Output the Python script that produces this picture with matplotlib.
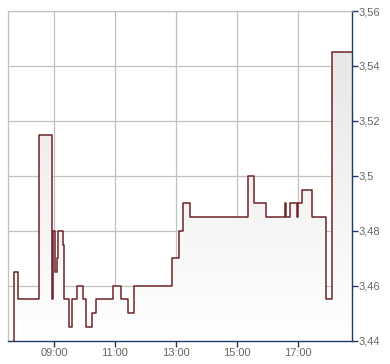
import numpy as np
import matplotlib
matplotlib.use("Agg")
import matplotlib.pyplot as plt
from matplotlib.ticker import FixedLocator, FuncFormatter

# time in hours, price (step after each time)
times = [7.69, 7.70, 7.83, 8.52, 8.95, 8.98, 9.03, 9.09, 9.12, 9.28, 9.34, 9.49,
         9.60, 9.74, 9.95, 10.06, 10.26, 10.39, 10.95, 11.20, 11.44, 11.63,
         12.88, 13.09, 13.22, 13.45, 15.37, 15.57, 15.97, 16.58, 16.63, 16.75,
         16.97, 17.02, 17.14, 17.47, 17.93, 18.12, 18.77]
prices = [3.44, 3.465, 3.455, 3.515, 3.455, 3.48, 3.465, 3.47, 3.48, 3.475, 3.455, 3.445,
          3.455, 3.46, 3.455, 3.445, 3.45, 3.455, 3.46, 3.455, 3.45, 3.46,
          3.47, 3.48, 3.49, 3.485, 3.5, 3.49, 3.485, 3.49, 3.485, 3.49,
          3.485, 3.49, 3.495, 3.485, 3.455, 3.545, 3.545]

xticks = [9, 11, 13, 15, 17]
yticks = [3.44, 3.46, 3.48, 3.50, 3.52, 3.54, 3.56]

plt.rcParams['font.family'] = ['Liberation Sans', 'DejaVu Sans']

fig = plt.figure(figsize=(3.9, 3.64), dpi=100)
ax = fig.add_axes([8/390, (364-340.7)/364, 344/390, 329.7/364])

xmin, xmax = 7.49, 18.78
ymin, ymax = 3.44, 3.56

# gradient fill under the line
grad = np.linspace(1.0, 0.0, 256).reshape(-1, 1)
cmap = matplotlib.colors.LinearSegmentedColormap.from_list("g", ["#ffffff", "#e4e4e4"])
img = ax.imshow(grad, extent=[xmin, xmax, ymin, ymax], aspect='auto', cmap=cmap,
                origin='upper', zorder=1)
poly = ax.fill_between(times, prices, ymin, step='post', color='none', zorder=1)
clip = poly.get_paths()[0]
img.set_clip_path(clip, ax.transData)

ax.plot(times, prices, drawstyle='steps-post', color='#6e2326', lw=1.1, zorder=3)

ax.set_xlim(xmin, xmax)
ax.set_ylim(ymin, ymax)

ax.xaxis.set_major_locator(FixedLocator(xticks))
ax.xaxis.set_major_formatter(FuncFormatter(lambda v, p: "%02d:00" % int(round(v))))
ax.yaxis.set_major_locator(FixedLocator(yticks))
ax.yaxis.set_major_formatter(FuncFormatter(lambda v, p: ("%g" % round(v, 2)).replace('.', ',')))
ax.yaxis.tick_right()

ax.grid(True, color='#c0c0c0', lw=0.9, zorder=0)
ax.set_axisbelow(True)

for s in ['left', 'top']:
    ax.spines[s].set_color('#c0c0c0')
    ax.spines[s].set_linewidth(0.9)
for s in ['right', 'bottom']:
    ax.spines[s].set_color('#1f3a66')
    ax.spines[s].set_linewidth(1.0)

ax.tick_params(axis='both', colors='#1f3a66', labelcolor='#666666', labelsize=8,
               length=4, width=1, pad=1)
ax.tick_params(axis='y', right=True, left=False)

fig.savefig("out.png", dpi=100)
